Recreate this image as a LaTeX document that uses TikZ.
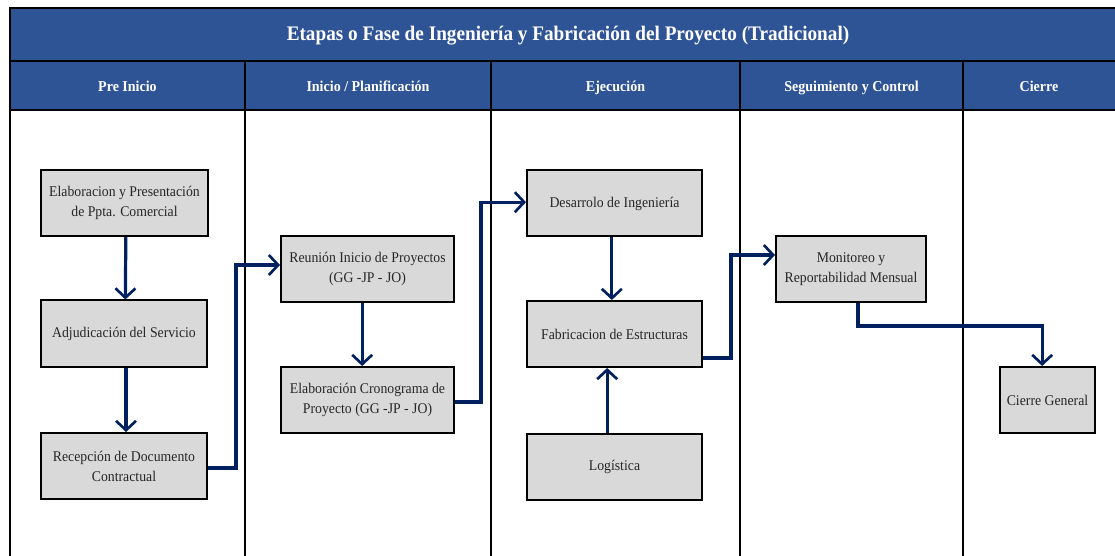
\documentclass[tikz,border=0pt]{standalone}
\usepackage{fontspec}
\setmainfont{Liberation Serif}
\newfontfamily\condfont[FakeStretch=0.93]{Liberation Serif}
\usetikzlibrary{arrows.meta}
\definecolor{hdr}{RGB}{47,84,150}
\definecolor{arr}{RGB}{0,32,96}
\definecolor{boxg}{RGB}{217,217,217}
\begin{document}
\begin{tikzpicture}[x=0.75pt,y=-0.75pt,
  stepbox/.style={draw=black,line width=1.5pt,fill=boxg,align=center,
    font=\condfont\fontsize{11.1}{15}\selectfont,text=black!85,inner sep=0pt,
    minimum height=49.5pt},
  flow/.style={draw=arr,line width=2.4pt,
    -{Straight Barb[length=7pt,width=15pt,line width=2pt]}},
  hdrtext/.style={text=white,font=\condfont\bfseries\fontsize{11.3}{12}\selectfont,
    text height=7.5pt,text depth=2.5pt},
  grid/.style={draw=black,line width=1.2pt}]
\useasboundingbox (0,0) rectangle (1115,556);
% header bars
\fill[hdr] (10,8) rectangle (1115,110);
\draw[grid] (1115,8) -- (10,8) -- (10,556);
\draw[grid] (10,61) -- (1115,61);
\draw[grid] (10,110) -- (1115,110);
\foreach \x in {245,491,740,963} \draw[grid] (\x,61) -- (\x,556);
\node[text=white,font=\condfont\bfseries\fontsize{15.5}{17}\selectfont] (title) at (568,36)
  {Etapas o Fase de Ingeniería y Fabricación del Proyecto (Tradicional)};
\node[hdrtext] (h1) at (127.5,88) {Pre Inicio};
\node[hdrtext] (h2) at (368,88) {Inicio / Planificación};
\node[hdrtext] (h3) at (615.5,88) {Ejecución};
\node[hdrtext] (h4) at (851.5,88) {Seguimiento y Control};
\node[hdrtext] (h5) at (1039,88) {Cierre};
% boxes
\node[stepbox,minimum width=125pt] (b1) at (124.5,203) {Elaboracion y Presentación\\de Ppta. Comercial};
\node[stepbox,minimum width=124.5pt] (b2) at (124,333.5) {Adjudicación del Servicio};
\node[stepbox,minimum width=124.5pt] (b3) at (124,466) {Recepción de Documento\\Contractual};
\node[stepbox,minimum width=129.75pt] (b4) at (367.5,269) {Reunión Inicio de Proyectos\\(GG -JP - JO)};
\node[stepbox,minimum width=129.75pt] (b5) at (367.5,400) {Elaboración Cronograma de\\Proyecto (GG -JP - JO)};
\node[stepbox,minimum width=131.25pt] (b6) at (614.5,203.5) {Desarrolo de Ingeniería};
\node[stepbox,minimum width=131.25pt] (b7) at (614.5,334) {Fabricacion de Estructuras};
\node[stepbox,minimum width=131.25pt] (b8) at (614.5,466.5) {Logística};
\node[stepbox,minimum width=112.5pt] (b9) at (851,269) {Monitoreo y\\Reportabilidad Mensual};
\node[stepbox,minimum width=71.25pt] (b10) at (1047.5,400) {Cierre General};
% connectors
\draw[flow] ([xshift=1pt]b1.south) -- ([xshift=1pt]b2.north);
\draw[flow] ([xshift=1.5pt]b2.south) -- ([xshift=1.5pt]b3.north);
\draw[flow] ([yshift=-1.5pt]b3.east) -- ++(28,0) |- ([yshift=3pt]b4.west);
\draw[flow] ([xshift=-4pt]b4.south) -- ([xshift=-4pt]b5.north);
\draw[flow] ([yshift=-1.5pt]b5.east) -- ++(26,0) |- ([yshift=1pt]b6.west);
\draw[flow] ([xshift=-2pt]b6.south) -- ([xshift=-2pt]b7.north);
\draw[flow] ([xshift=-5.5pt]b8.north) -- ([xshift=-5.5pt]b7.south);
\draw[flow] ([yshift=-18pt]b7.east) -- ++(28,0) |- ([yshift=10.5pt]b9.west);
\draw[flow] ([xshift=5.25pt]b9.south) -- ++(0,23) -| ([xshift=-4pt]b10.north);
\end{tikzpicture}
\end{document}
